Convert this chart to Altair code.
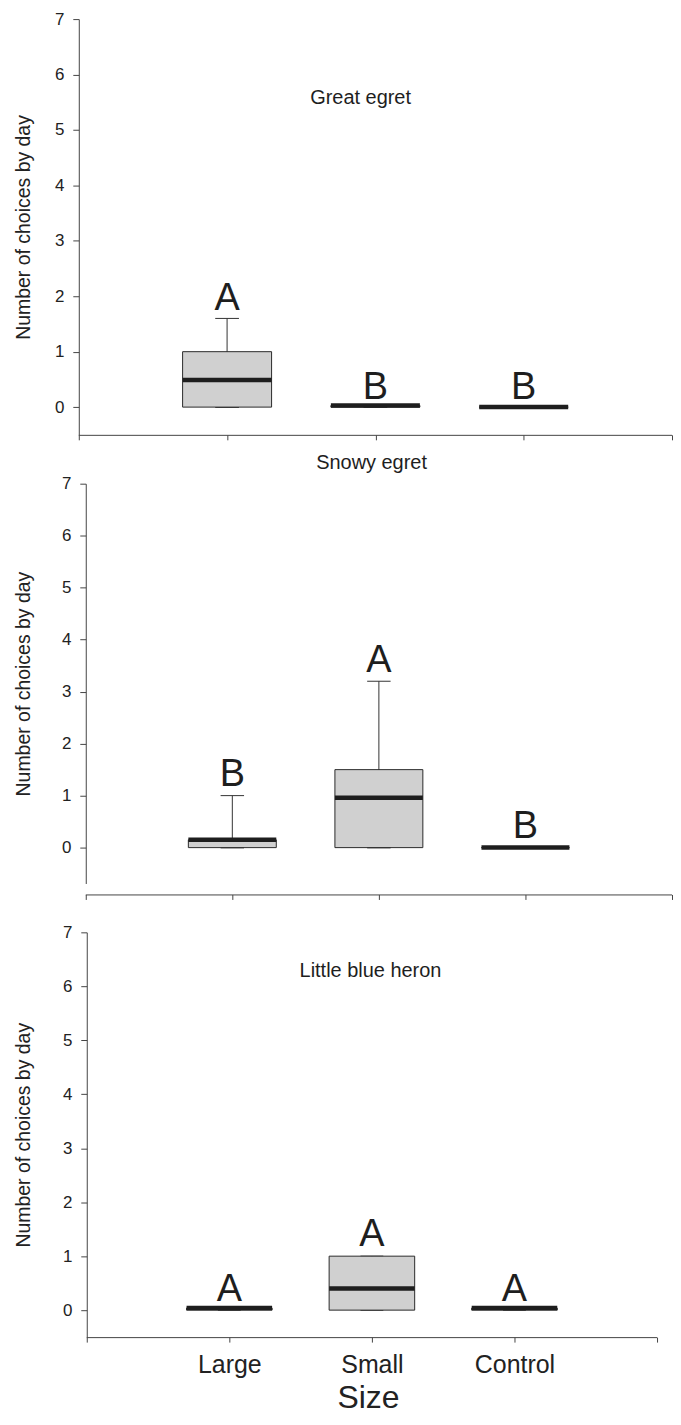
import altair as alt
import pandas as pd

positions = [1, 2, 3]
categories = ["Large", "Small", "Control"]
panel_names = ["Great egret", "Snowy egret", "Little blue heron"]

# Great egret
ge_q1 = [0.0, 0.0, 0.0]
ge_q3 = [1.0, 0.03, 0.0]
ge_med = [0.49, 0.03, 0.0]
ge_lo = [0.0, 0.0, 0.0]
ge_hi = [1.6, 0.03, 0.0]
ge_letters = ["A", "B", "B"]
ge_letter_y = [1.75, 0.15, 0.15]

# Snowy egret
se_q1 = [0.0, 0.0, 0.0]
se_q3 = [0.15, 1.5, 0.0]
se_med = [0.15, 0.96, 0.0]
se_lo = [0.0, 0.0, 0.0]
se_hi = [1.0, 3.2, 0.0]
se_letters = ["B", "A", "B"]
se_letter_y = [1.19, 3.38, 0.19]

# Little blue heron
lb_q1 = [0.0, 0.0, 0.0]
lb_q3 = [0.04, 1.0, 0.04]
lb_med = [0.04, 0.4, 0.04]
lb_lo = [0.0, 0.0, 0.0]
lb_hi = [0.04, 1.0, 0.04]
lb_letters = ["A", "A", "A"]
lb_letter_y = [0.17, 1.18, 0.17]

y_ticks = [0, 1, 2, 3, 4, 5, 6, 7]
x_ticks = [0, 1, 2, 3, 4]

FONT = "Liberation Sans"
INK = "#1e1e1e"
AXIS = "#444444"

label_expr = " : ".join(
    f"datum.value == {p} ? '{c}'" for p, c in zip(positions, categories)
) + " : ''"


def make_panel(name, q1, q3, med, lo, hi, letters, ly, ymin, xmin, width,
               height, title_pad, y_offset, show_x, tx, ty, x_offset=0):
    df = pd.DataFrame({"pos": positions, "q1": q1, "q3": q3, "med": med,
                       "lo": lo, "hi": hi, "letter": letters, "ly": ly})
    base = alt.Chart(df).transform_calculate(
        left="datum.pos - 0.3", right="datum.pos + 0.3",
        capl="datum.pos - 0.08", capr="datum.pos + 0.08")
    xs = alt.Scale(domain=[xmin, x_ticks[-1]], nice=False, zero=False)
    ys = alt.Scale(domain=[ymin, 7], nice=False, zero=False)
    if show_x:
        xaxis = alt.Axis(values=x_ticks, labelExpr=label_expr, tickSize=5,
                         labelFontSize=25, labelPadding=10, titleFontSize=32,
                         titlePadding=6, labelFlush=False, offset=x_offset,
                         domain=False)
        xtitle = "Size"
    else:
        xaxis = alt.Axis(values=x_ticks, labels=False, tickSize=5,
                         offset=x_offset, domain=False)
        xtitle = None
    yaxis = alt.Axis(values=y_ticks, tickSize=6, labelPadding=9,
                     labelFontSize=17, titleFontSize=19.5,
                     titlePadding=title_pad, offset=y_offset)
    ytitle = "Number of choices by day"

    def X(f):
        return alt.X(f, type="quantitative", scale=xs, axis=xaxis, title=xtitle)

    def Y(f):
        return alt.Y(f, type="quantitative", scale=ys, axis=yaxis, title=ytitle)

    # x axis baseline from first to last tick
    adf = pd.DataFrame({"a": [x_ticks[0]], "b": [x_ticks[-1]]})
    xline = alt.Chart(adf).mark_rule(color=AXIS, strokeWidth=1).encode(
        x=X("a"), x2="b:Q", y=alt.value(height + x_offset + 0.5))

    whisk = base.mark_rule(color="#333333", strokeWidth=1).encode(
        x=X("pos"), y=Y("lo"), y2="hi:Q")
    cap_hi = base.mark_rule(color="#333333", strokeWidth=1).encode(
        x=X("capl"), x2="capr:Q", y=Y("hi"))
    cap_lo = base.mark_rule(color="#333333", strokeWidth=1.5).encode(
        x=X("capl"), x2="capr:Q", y=Y("lo"))
    box = base.mark_rect(fill="#d0d0d0", stroke="#2a2a2a", strokeWidth=1).encode(
        x=X("left"), x2="right:Q", y=Y("q1"), y2="q3:Q")
    median = base.mark_rule(color=INK, strokeWidth=4.5).encode(
        x=X("left"), x2="right:Q", y=Y("med"))
    letters_l = base.mark_text(font=FONT, fontSize=38, baseline="alphabetic",
                               color=INK).encode(
        x=X("pos"), y=Y("ly"), text="letter:N")
    tdf = pd.DataFrame({"t": [name], "x": [tx], "y": [ty]})
    title_l = alt.Chart(tdf).mark_text(font=FONT, fontSize=20, color=INK,
                                       baseline="middle").encode(
        x=X("x"), y=Y("y"), text="t:N")
    layers = [xline, whisk, cap_hi, cap_lo, box, median, letters_l, title_l]
    return alt.layer(*layers).properties(width=width, height=height)


p1 = make_panel(panel_names[0], ge_q1, ge_q3, ge_med, ge_lo, ge_hi, ge_letters,
                ge_letter_y, -0.5, 0.0, 595, 417, 21, 0, False, 1.9, 5.58)
p2 = make_panel(panel_names[1], se_q1, se_q3, se_med, se_lo, se_hi, se_letters,
                se_letter_y, -0.69, -7 / 147, 595, 401, 28, -7, False, 1.95, 7.4,
                x_offset=11)
p3 = make_panel(panel_names[2], lb_q1, lb_q3, lb_med, lb_lo, lb_hi, lb_letters,
                lb_letter_y, -0.5, -8 / 143, 580, 406, 29, -8, True, 1.99, 6.28)

chart = alt.vconcat(p1, p2, p3, spacing=49, bounds="flush").properties(
    padding={"left": 5, "top": 0, "right": 0, "bottom": 0},
    background="white",
).configure_view(stroke=None).configure_axis(
    grid=False, labelFont=FONT, titleFont=FONT, domainColor=AXIS,
    tickColor=AXIS, labelColor="#222222", titleColor="#222222",
    titleFontWeight="normal", domainWidth=1, tickWidth=1)

chart.save("out.html", embed_options={"renderer": "svg", "actions": False})
